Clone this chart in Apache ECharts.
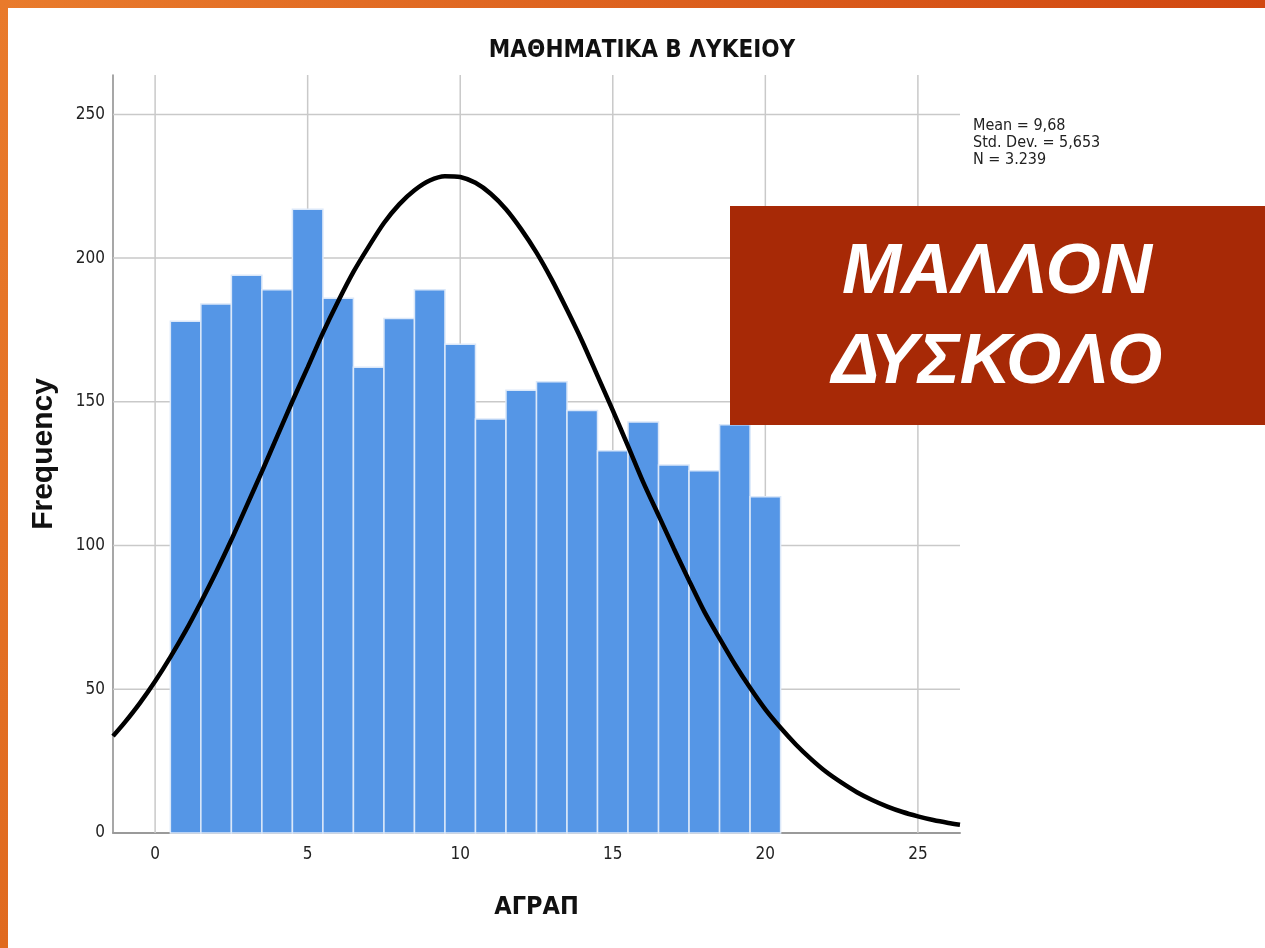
<!DOCTYPE html>
<html>
<head>
<meta charset="utf-8">
<script src="https://cdn.jsdelivr.net/npm/echarts@6/dist/echarts.min.js"></script>
<style>
html,body{margin:0;padding:0;background:#fff;}
#c{width:1265px;height:948px;}
</style>
</head>
<body>
<div id="c"></div>
<script>
// ---- data ----
const binCenters = [1,2,3,4,5,6,7,8,9,10,11,12,13,14,15,16,17,18,19,20];
const frequencies = [178,184,194,189,217,186,162,179,189,170,144,154,157,147,133,143,128,126,142,117];
const curveX = [-1.38,-1,-0.5,0,0.5,1,1.5,2,2.5,3,3.5,4,4.5,5,5.5,6,6.5,7,7.5,8,8.5,9,9.5,10,10.5,11,11.5,12,12.5,13,13.5,14,14.5,15,15.5,16,16.5,17,17.5,18,18.5,19,19.5,20,20.5,21,21.5,22,22.5,23,23.5,24,24.5,25,25.5,26,26.38];
const curveY = [33.7,38.4,45.2,52.8,61.2,70.3,80.3,90.8,102,113.8,125.7,138,150.2,162,174,185,195.2,204,212.2,218.7,223.6,227,228.5,228.2,226.2,222.4,217,210,201.9,192.5,182,171,159,147,134.6,122,110.5,99,87.8,77,67.7,58.7,50.5,43,36.6,30.8,25.7,21.2,17.5,14.2,11.5,9.2,7.3,5.8,4.5,3.5,2.9];
const xTickValues = [0,5,10,15,20,25];
const yTickValues = [0,50,100,150,200,250];
const titleText = 'ΜΑΘΗΜΑΤΙΚΑ Β ΛΥΚΕΙΟΥ';
const xName = 'ΑΓΡΑΠ';
const yName = 'Frequency';
const statsLines = ['Mean = 9,68', 'Std. Dev. = 5,653', 'N = 3.239'];
const boxLines = ['ΜΑΛΛΟΝ', 'ΔΥΣΚΟΛΟ'];

const NARROW = "'Liberation Sans Narrow','DejaVu Sans Condensed','Liberation Sans',sans-serif";
const SANS = "'Liberation Sans',Arial,sans-serif";

const chart = echarts.init(document.getElementById('c'), null, {renderer:'canvas'});

const barData = binCenters.map((x,i)=>[x, frequencies[i]]);
const curveData = curveX.map((x,i)=>[x, curveY[i]]);
const gridColor = '#c9c9c9';

const option = {
  animation:false,
  backgroundColor:'#ffffff',
  title:{
    text:titleText,
    left:642, top:39, padding:0,
    textAlign:'center',
    textStyle:{fontFamily:NARROW,fontSize:24,fontWeight:'bold',color:'#111'}
  },
  grid:{left:113,right:305,top:75,bottom:115,containLabel:false},
  xAxis:{
    type:'value', min:-1.38, max:26.38,
    name:xName, nameLocation:'middle', nameGap:62,
    nameTextStyle:{fontFamily:NARROW,fontSize:25,fontWeight:'bold',color:'#111'},
    axisLine:{show:true,onZero:false,lineStyle:{color:'#9a9a9a',width:2}},
    axisTick:{show:false},
    splitLine:{show:false},
    axisLabel:{customValues:xTickValues,fontFamily:NARROW,fontSize:17,color:'#222',margin:13}
  },
  yAxis:{
    type:'value', min:0, max:263.7,
    name:yName, nameLocation:'middle', nameGap:54, nameRotate:90,
    nameTextStyle:{fontFamily:SANS,fontSize:30,fontWeight:'bold',color:'#111'},
    axisLine:{show:true,onZero:false,lineStyle:{color:'#8a8a8a',width:1.5}},
    axisTick:{show:false},
    splitLine:{show:false},
    axisLabel:{customValues:yTickValues,fontFamily:NARROW,fontSize:17,color:'#222',margin:8}
  },
  series:[
    {
      type:'custom', z:1, silent:true, clip:true,
      data:xTickValues.map(v=>[v,0]),
      renderItem:function(params, api){
        const cs = params.coordSys;
        const p = api.coord([api.value(0), 0]);
        return {type:'line', shape:{x1:p[0],y1:cs.y,x2:p[0],y2:cs.y+cs.height},
                style:{stroke:gridColor,lineWidth:1.5}};
      }
    },
    {
      type:'custom', z:1, silent:true, clip:true,
      data:yTickValues.filter(v=>v>0).map(v=>[0,v]),
      renderItem:function(params, api){
        const cs = params.coordSys;
        const p = api.coord([0, api.value(1)]);
        return {type:'line', shape:{x1:cs.x,y1:p[1],x2:cs.x+cs.width,y2:p[1]},
                style:{stroke:gridColor,lineWidth:1.5}};
      }
    },
    {
      type:'custom', z:2, data:barData,
      renderItem:function(params, api){
        const x = api.value(0), y = api.value(1);
        const p1 = api.coord([x-0.5, y]);
        const p2 = api.coord([x+0.5, 0]);
        return {
          type:'rect',
          shape:{x:p1[0], y:p1[1], width:p2[0]-p1[0], height:p2[1]-p1[1]},
          style:{fill:'#5596e6', stroke:'#dbe8f9', lineWidth:1.5}
        };
      }
    },
    {
      type:'line', z:3, data:curveData, smooth:0.25, showSymbol:false, clip:true,
      lineStyle:{color:'#000',width:4.5}
    }
  ],
  graphic:[
    {type:'rect', left:0, top:0, z:10, shape:{width:1265,height:8},
     style:{fill:new echarts.graphic.LinearGradient(0,0,1,0,[{offset:0,color:'#e97b2c'},{offset:1,color:'#d14710'}])}},
    {type:'rect', left:0, top:0, z:10, shape:{width:8,height:948},
     style:{fill:new echarts.graphic.LinearGradient(0,0,0,1,[{offset:0,color:'#e97a2b'},{offset:1,color:'#e06a1f'}])}},
    {type:'text', left:973, top:117, z:10,
     style:{text:statsLines.join('\n'), font:"16px "+NARROW, fill:'#222', lineHeight:17}},
    {type:'rect', left:730, top:206, z:20, shape:{width:535,height:219},
     style:{fill:'#a72906'}},
    {type:'text', z:21, x:997, y:318,
     style:{text:boxLines.join('\n'), font:"italic bold 71px "+SANS, fill:'#ffffff',
            textAlign:'center', textVerticalAlign:'middle', lineHeight:90}}
  ]
};
chart.setOption(option);
</script>
</body>
</html>
